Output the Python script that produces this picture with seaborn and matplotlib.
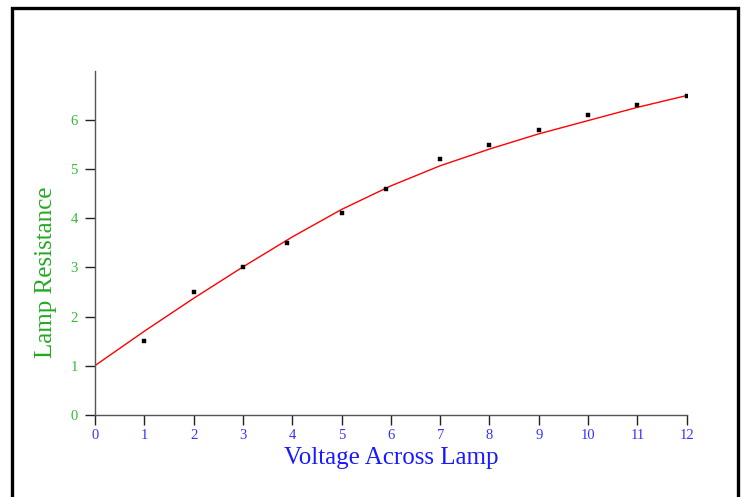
import matplotlib
matplotlib.use("Agg")
import matplotlib.pyplot as plt
import matplotlib.patches as mpatches
import seaborn as sns
import pandas as pd

# measured points
voltage = [1, 2, 3, 3.9, 5, 5.9, 7, 8, 9, 10, 11, 12]
resistance = [1.5, 2.5, 3.0, 3.5, 4.1, 4.6, 5.2, 5.5, 5.8, 6.1, 6.3, 6.5]

# fitted curve
fit_x = [0, 1, 2, 3, 4, 5, 6, 7, 8, 9, 10, 11, 12]
fit_y = [1.0, 1.7, 2.37, 3.01, 3.62, 4.18, 4.66, 5.07, 5.41, 5.72, 5.99, 6.26, 6.5]

x_ticks = list(range(0, 13))
y_ticks = list(range(0, 7))

pts = pd.DataFrame({"V": voltage, "R": resistance})
fit = pd.DataFrame({"V": fit_x, "R": fit_y})

sns.set_style("white")
plt.rcParams["font.family"] = ["Liberation Serif", "DejaVu Serif"]

fig = plt.figure(figsize=(7.43, 4.97), dpi=100)
ax = fig.add_axes([95 / 743, 1 - 414.7 / 497, (686.7 - 95) / 743, (414.7 - 71) / 497])

sns.lineplot(data=fit, x="V", y="R", ax=ax, color="#ff0000", lw=1.0)
sns.scatterplot(data=pts, x="V", y="R", ax=ax, color="black", marker="s", s=5,
                edgecolor="black", linewidth=0.3, zorder=5)

ax.set_xlim(0, 12)
ax.set_ylim(0, 7)
ax.set_xticks(x_ticks)
ax.set_yticks(y_ticks)
ax.set_xticklabels([str(v) for v in x_ticks])
ax.set_yticklabels([str(v) for v in y_ticks])

for s in ["top", "right"]:
    ax.spines[s].set_visible(False)
for s in ["left", "bottom"]:
    ax.spines[s].set_color("#555555")
    ax.spines[s].set_linewidth(1.0)

ax.tick_params(axis="x", direction="out", length=7, width=1, color="#222222",
               labelcolor="#3333ff", labelsize=10.5, pad=3, bottom=True)
ax.tick_params(axis="y", direction="out", length=7.5, width=1, color="#222222",
               labelcolor="#33bb33", labelsize=10.5, pad=5, left=True)

ax.set_xlabel("Voltage Across Lamp", color="#1a1aff", fontsize=18)
ax.set_ylabel("Lamp Resistance", color="#22aa22", fontsize=18)
ax.xaxis.set_label_coords(0.5, -0.095)
ax.xaxis.label.set_va("top")
ax.yaxis.set_label_coords((57 - 95) / 591.7, 0.414)

# outer frame
frame = mpatches.Rectangle((11.5 / 743, -0.02), (738 - 11.5) / 743, 1.02 - 7.5 / 497,
                           transform=fig.transFigure, fill=False,
                           edgecolor="black", linewidth=2.4, clip_on=False)
fig.patches.append(frame)

fig.savefig("out.png", dpi=100)
